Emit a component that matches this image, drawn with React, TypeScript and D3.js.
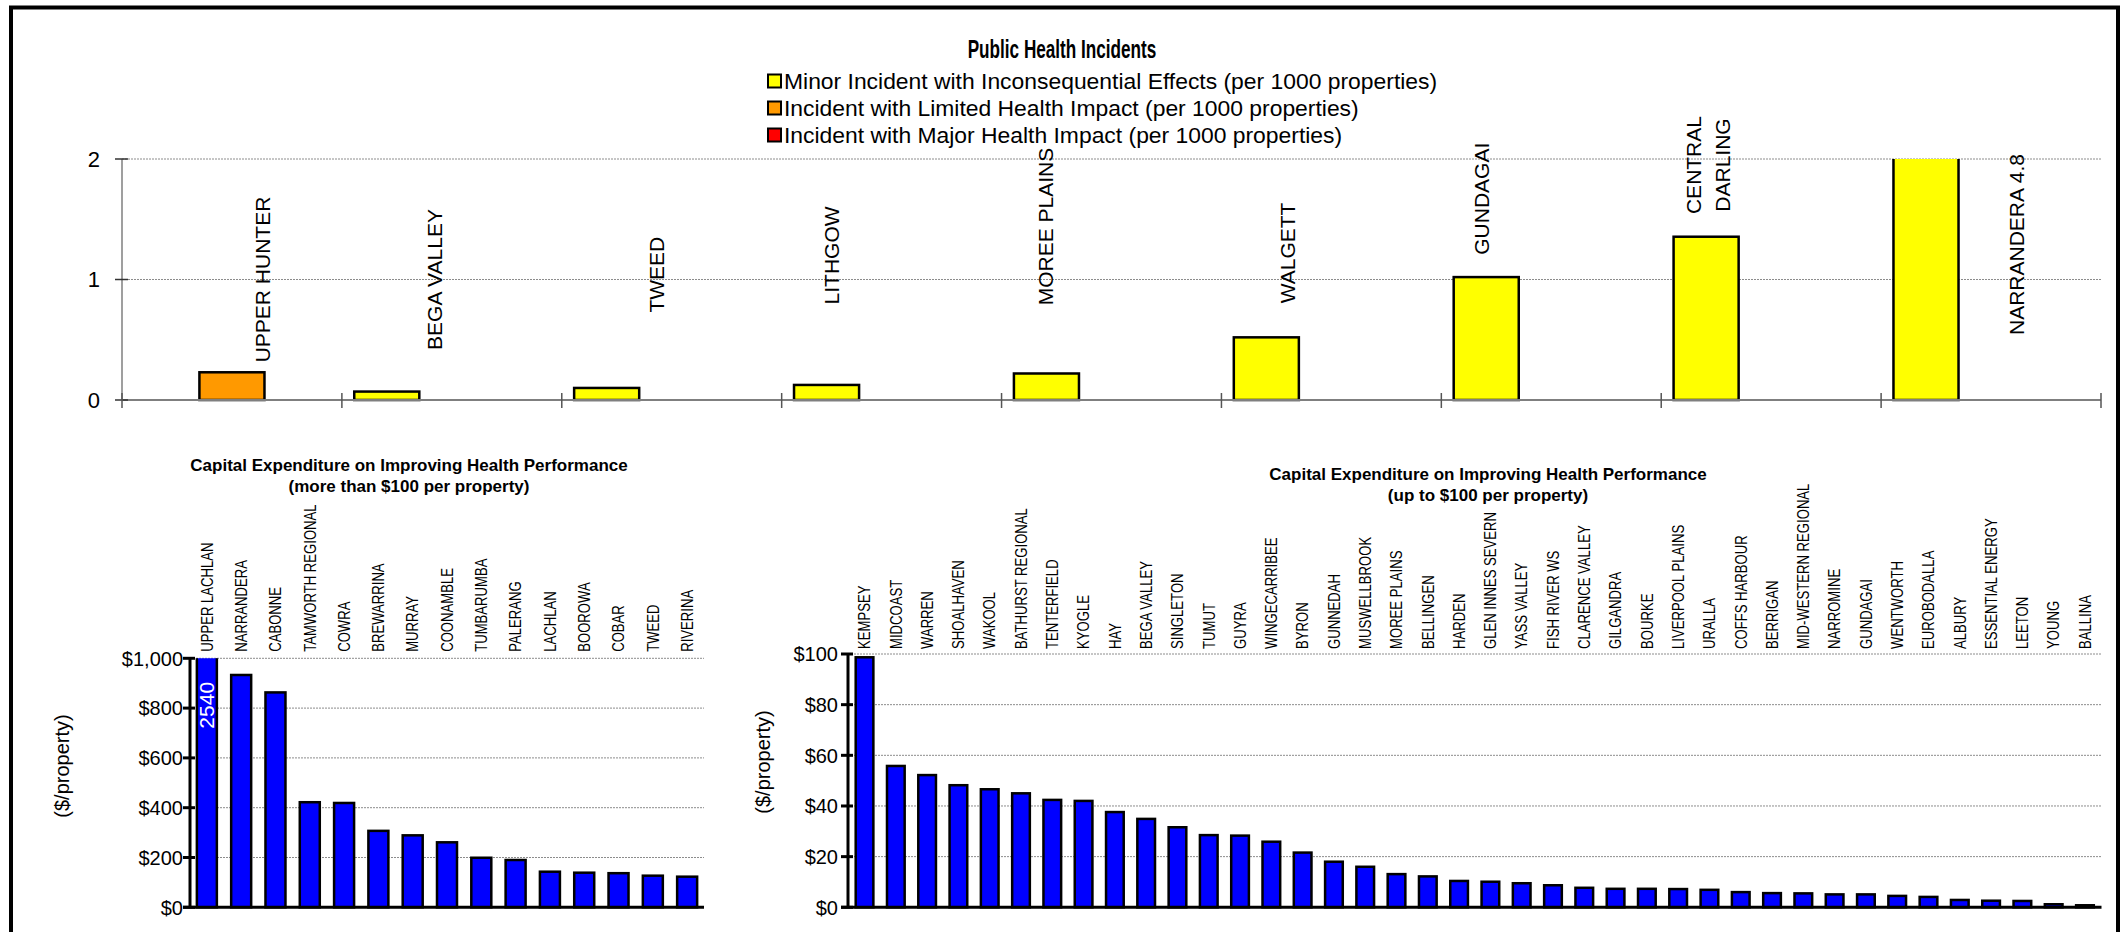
import React from 'react';
import * as d3 from 'd3';

const W = 2126;
const H = 932;
const FONT = "'Liberation Sans', Arial, Helvetica, sans-serif";

// ---------- Top chart data ----------
const topCategories = ['UPPER HUNTER', 'BEGA VALLEY', 'TWEED', 'LITHGOW', 'MOREE PLAINS', 'WALGETT', 'GUNDAGAI', 'CENTRAL DARLING', 'NARRANDERA'];
const topLabels = ['UPPER HUNTER', 'BEGA VALLEY', 'TWEED', 'LITHGOW', 'MOREE PLAINS', 'WALGETT', 'GUNDAGAI', 'CENTRAL\nDARLING', 'NARRANDERA 4.8'];
const minorIncidents = [0, 0.07, 0.1, 0.125, 0.22, 0.52, 1.02, 1.355, 4.8];
const limitedIncidents = [0.23, 0, 0, 0, 0, 0, 0, 0, 0];
const majorIncidents = [0, 0, 0, 0, 0, 0, 0, 0, 0];
// where each category's text label sits: fraction across its band, and value height
const topLabelBandFrac = [0.637, 0.423, 0.432, 0.227, 0.2, 0.3, 0.182, 0.214, 0.614];
const topLabelValue = [1.0, 1.0, 1.04, 1.2, 1.44, 1.22, 1.67, 1.95, 1.29];
const topTicks = [0, 1, 2];
const seriesKeys = ['minor', 'limited', 'major'];
const seriesNames = [
  'Minor Incident with Inconsequential Effects (per 1000 properties)',
  'Incident with Limited Health Impact (per 1000 properties)',
  'Incident with Major Health Impact (per 1000 properties)',
];
const seriesColors = ['#FFFF00', '#FF9900', '#FF0000'];

// ---------- Bottom-left chart data ----------
const highCategories = ['UPPER LACHLAN', 'NARRANDERA', 'CABONNE', 'TAMWORTH REGIONAL', 'COWRA', 'BREWARRINA', 'MURRAY', 'COONAMBLE', 'TUMBARUMBA', 'PALERANG', 'LACHLAN', 'BOOROWA', 'COBAR', 'TWEED', 'RIVERINA'];
const highValues = [2540, 933, 863, 422, 419, 307, 289, 261, 199, 190, 143, 139, 137, 127, 123];
const highTicks = [0, 200, 400, 600, 800, 1000];

// ---------- Bottom-right chart data ----------
const lowCategories = ['KEMPSEY', 'MIDCOAST', 'WARREN', 'SHOALHAVEN', 'WAKOOL', 'BATHURST REGIONAL', 'TENTERFIELD', 'KYOGLE', 'HAY', 'BEGA VALLEY', 'SINGLETON', 'TUMUT', 'GUYRA', 'WINGECARRIBEE', 'BYRON', 'GUNNEDAH', 'MUSWELLBROOK', 'MOREE PLAINS', 'BELLINGEN', 'HARDEN', 'GLEN INNES SEVERN', 'YASS VALLEY', 'FISH RIVER WS', 'CLARENCE VALLEY', 'GILGANDRA', 'BOURKE', 'LIVERPOOL PLAINS', 'URALLA', 'COFFS HARBOUR', 'BERRIGAN', 'MID-WESTERN REGIONAL', 'NARROMINE', 'GUNDAGAI', 'WENTWORTH', 'EUROBODALLA', 'ALBURY', 'ESSENTIAL ENERGY', 'LEETON', 'YOUNG', 'BALLINA'];
const lowValues = [98.7, 55.8, 52.2, 48.2, 46.6, 45.0, 42.4, 42.0, 37.6, 34.9, 31.6, 28.5, 28.3, 25.9, 21.6, 18.0, 16.0, 13.1, 12.2, 10.4, 10.1, 9.5, 8.7, 7.7, 7.3, 7.3, 7.2, 6.9, 6.0, 5.6, 5.5, 5.1, 5.1, 4.5, 4.1, 2.9, 2.6, 2.5, 1.2, 0.8];
const lowTicks = [0, 20, 40, 60, 80, 100];

const fmtDollar = (v: number) => '$' + d3.format(',')(v);

function BarPanel(props: {
  id: string;
  categories: string[];
  values: number[];
  ticks: number[];
  x0: number; x1: number; yTop: number; yBottom: number;
  padInner: number; padOuter: number;
  title: string[]; titleX: number; titleY: number;
  yTitleX: number; yTitleY: number;
  labelGap: number;
  tickGap: number;
}) {
  const { id, categories, values, ticks, x0, x1, yTop, yBottom } = props;
  const max = ticks[ticks.length - 1];
  const x = d3.scaleBand().domain(categories).range([x0, x1]).paddingInner(props.padInner).paddingOuter(props.padOuter);
  const y = d3.scaleLinear().domain([0, max]).range([yBottom, yTop]);
  const bw = x.bandwidth();
  return (
    <g>
      <defs>
        <clipPath id={id}>
          <rect x={x0 - 2} y={yTop} width={x1 - x0 + 4} height={yBottom - yTop + 3} />
        </clipPath>
      </defs>
      {/* title */}
      <text x={props.titleX} y={props.titleY} textAnchor="middle" fontFamily={FONT} fontWeight="bold" fontSize={17}>
        {props.title.map((t, i) => (
          <tspan key={i} x={props.titleX} dy={i === 0 ? 0 : 21}>{t}</tspan>
        ))}
      </text>
      {/* gridlines */}
      {ticks.filter(t => t > 0).map(t => (
        <line key={t} x1={x0} x2={x1} y1={y(t)} y2={y(t)} stroke="#8c8c8c" strokeWidth={1} strokeDasharray="2 1" />
      ))}
      {/* bars */}
      <g clipPath={`url(#${id})`}>
        {categories.map((c, i) => {
          const v = values[i];
          const top = y(Math.min(v, max * 1.05));
          return (
            <rect key={c} x={x(c)} y={top} width={bw} height={yBottom - top} fill="#0000FF" stroke="#000" strokeWidth={2.5} />
          );
        })}
      </g>
      {/* value label for bars beyond the axis */}
      {categories.map((c, i) => values[i] > max ? (
        <text key={c} transform={`translate(${x(c)! + bw / 2},${y(max) + 47}) rotate(-90)`} textAnchor="middle" dy="0.36em" fill="#fff" fontFamily={FONT} fontSize={21}>{values[i]}</text>
      ) : null)}
      {/* axes */}
      <line x1={x0} x2={x0} y1={yTop} y2={yBottom} stroke="#000" strokeWidth={3} />
      <line x1={x0 - 7} x2={x1} y1={yBottom} y2={yBottom} stroke="#000" strokeWidth={3} />
      {ticks.map(t => (
        <g key={t}>
          <line x1={x0 - 7} x2={x0 + 5} y1={y(t)} y2={y(t)} stroke="#000" strokeWidth={3} />
          <text x={x0 - props.tickGap} y={y(t)} dy="0.36em" textAnchor="end" fontFamily={FONT} fontSize={20}>{fmtDollar(t)}</text>
        </g>
      ))}
      {/* category labels */}
      {categories.map(c => (
        <text key={c} transform={`translate(${x(c)! + bw / 2},${yTop - props.labelGap}) rotate(-90) scale(0.82,1)`} dy="0.36em" textAnchor="start" fontFamily={FONT} fontSize={16}>{c}</text>
      ))}
      {/* y axis title */}
      <text transform={`translate(${props.yTitleX},${props.yTitleY}) rotate(-90)`} textAnchor="middle" dy="0.36em" fontFamily={FONT} fontSize={20}>($/property)</text>
    </g>
  );
}

export default function App() {
  // ---------- top chart ----------
  const tLeft = 122, tRight = 2101, tTop = 159, tBottom = 400;
  const tx0 = d3.scaleBand().domain(topCategories).range([tLeft, tRight]).padding(0);
  const tx1 = d3.scaleBand().domain(seriesKeys).range([0, tx0.bandwidth()]).paddingInner(0).paddingOuter(0.19);
  const ty = d3.scaleLinear().domain([0, 2]).range([tBottom, tTop]);
  const seriesValues = [minorIncidents, limitedIncidents, majorIncidents];

  return (
    <svg width={W} height={H} viewBox={`0 0 ${W} ${H}`} style={{ position: 'absolute', left: 0, top: 0, background: '#fff' }}>
      <rect x={0} y={0} width={W} height={H} fill="#fff" />
      <defs>
        <clipPath id="topclip">
          <rect x={tLeft} y={tTop} width={tRight - tLeft} height={tBottom - tTop + 3} />
        </clipPath>
      </defs>

      {/* title (condensed) */}
      <text transform="translate(1062,58) scale(0.66,1)" textAnchor="middle" fontFamily={FONT} fontWeight="bold" fontSize={26}>Public Health Incidents</text>

      {/* legend */}
      {seriesNames.map((n, i) => (
        <g key={n} transform={`translate(768,${81 + i * 27})`}>
          <rect x={0} y={-6.5} width={13} height={13} fill={seriesColors[i]} stroke="#000" strokeWidth={2} />
          <text transform="translate(16,0) scale(1.04,1)" dy="0.36em" fontFamily={FONT} fontSize={22}>{n}</text>
        </g>
      ))}

      {/* gridlines */}
      {topTicks.filter(t => t > 0).map(t => (
        <line key={t} x1={tLeft} x2={tRight} y1={ty(t)} y2={ty(t)} stroke="#8c8c8c" strokeWidth={1} strokeDasharray="2 1" />
      ))}

      {/* bars */}
      <g clipPath="url(#topclip)">
        {topCategories.map((c, i) => seriesKeys.map((s, k) => {
          const v = seriesValues[k][i];
          if (!v) return null;
          return (
            <rect key={c + s} x={tx0(c)! + tx1(s)!} y={ty(v)} width={tx1.bandwidth()} height={tBottom - ty(v)} fill={seriesColors[k]} stroke="#000" strokeWidth={2.5} />
          );
        }))}
      </g>

      {/* axes */}
      <line x1={tLeft} x2={tLeft} y1={tTop} y2={tBottom} stroke="#7f7f7f" strokeWidth={1.5} />
      <line x1={tLeft} x2={tRight} y1={tBottom} y2={tBottom} stroke="#7f7f7f" strokeWidth={2} />
      {topTicks.map(t => (
        <g key={t}>
          <line x1={tLeft - 7} x2={tLeft + 6} y1={ty(t)} y2={ty(t)} stroke="#333" strokeWidth={1.5} />
          <text x={tLeft - 22} y={ty(t)} dy="0.36em" textAnchor="end" fontFamily={FONT} fontSize={22}>{t}</text>
        </g>
      ))}
      {d3.range(topCategories.length + 1).map(i => {
        const xx = tLeft + i * tx0.step();
        return <line key={i} x1={xx} x2={xx} y1={tBottom - 7} y2={tBottom + 8} stroke="#555" strokeWidth={1.5} />;
      })}

      {/* category labels */}
      {topCategories.map((c, i) => {
        const lines = topLabels[i].split('\n');
        const cx = tx0(c)! + topLabelBandFrac[i] * tx0.bandwidth();
        const cy = ty(topLabelValue[i]);
        return (
          <text key={c} transform={`translate(${cx},${cy}) rotate(-90)`} textAnchor="middle" fontFamily={FONT} fontSize={21}>
            {lines.map((l, j) => (
              <tspan key={j} x={0} y={(j - (lines.length - 1) / 2) * 29} dy="0.36em">{l}</tspan>
            ))}
          </text>
        );
      })}

      {/* bottom-left */}
      <BarPanel
        id="leftclip"
        categories={highCategories}
        values={highValues}
        ticks={highTicks}
        x0={190} x1={704} yTop={658.3} yBottom={907.3}
        padInner={0.417} padOuter={0.2}
        title={['Capital Expenditure on Improving Health Performance', '(more than $100 per property)']}
        titleX={409} titleY={471}
        yTitleX={62} yTitleY={766}
        labelGap={6.5}
        tickGap={7}
      />
      {/* bottom-right */}
      <BarPanel
        id="rightclip"
        categories={lowCategories}
        values={lowValues}
        ticks={lowTicks}
        x0={848} x1={2101.5} yTop={654} yBottom={907.3}
        padInner={0.435} padOuter={0.246}
        title={['Capital Expenditure on Improving Health Performance', '(up to $100 per property)']}
        titleX={1488} titleY={480}
        yTitleX={763} yTitleY={762}
        labelGap={5}
        tickGap={10}
      />

      {/* outer frame */}
      <rect x={11} y={7.5} width={2107} height={960} fill="none" stroke="#000" strokeWidth={4} />
    </svg>
  );
}
